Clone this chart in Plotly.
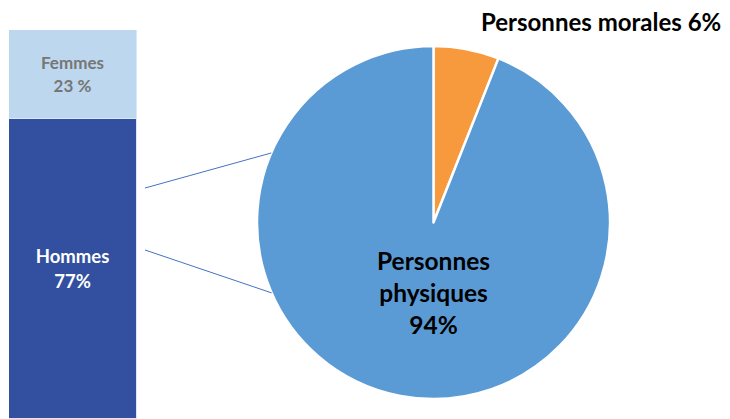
import plotly.graph_objects as go
import math

# Data
bar_labels = ["Hommes", "Femmes"]
bar_values = [77, 23]
bar_texts = ["Hommes<br>77%", "Femmes<br>23 %"]
pie_labels = ["Personnes morales", "Personnes physiques"]
pie_values = [6, 94]
pie_texts = ["Personnes morales 6%", "Personnes<br>physiques<br>94%"]

W, H = 730, 419
FONT = "Lato, 'Open Sans', sans-serif"

# Geometry (pixels)
bar_x0, bar_x1, bar_top = 9, 137, 30
pie_x0, pie_x1, pie_y0, pie_y1 = 257, 610, 45, 400

fig = go.Figure()

bar_colors = ["#32509F", "#BDD7EE"]
bar_font_colors = ["white", "#767676"]
bar_font_sizes = [18.5, 17]
for lab, v, t, c, fc, fs in zip(bar_labels, bar_values, bar_texts, bar_colors, bar_font_colors, bar_font_sizes):
    fig.add_trace(go.Bar(
        x=[""], y=[v], name=lab, text=[t], textposition="inside",
        insidetextanchor="middle", textangle=0,
        textfont=dict(color=fc, size=fs, family=FONT, weight="bold"),
        marker=dict(color=c, line=dict(color="#DCE6F2", width=1)),
        hoverinfo="skip", showlegend=False,
    ))

fig.add_trace(go.Pie(
    labels=pie_labels, values=pie_values, sort=False, direction="clockwise",
    rotation=0, textinfo="none", hoverinfo="skip", showlegend=False,
    marker=dict(colors=["#F79A3E", "#5B9BD5"], line=dict(color="white", width=2.5)),
    domain=dict(x=[pie_x0 / W, pie_x1 / W], y=[1 - pie_y1 / H, 1 - pie_y0 / H]),
))

# Connector lines from bar to pie edge
cx, cy = (pie_x0 + pie_x1) / 2, (pie_y0 + pie_y1) / 2
r = min(pie_x1 - pie_x0, pie_y1 - pie_y0) / 2
shapes = []
for by, ang in [(188, 156.8), (250, 203.5)]:
    px = cx + r * math.cos(math.radians(ang))
    py = cy - r * math.sin(math.radians(ang))
    shapes.append(dict(type="line", xref="paper", yref="paper",
                       x0=(bar_x1 + 8) / W, y0=1 - by / H, x1=px / W, y1=1 - py / H,
                       line=dict(color="#4472C4", width=1)))

annotations = [
    dict(text="<b>" + pie_texts[0] + "</b>", x=723 / W, y=1 - 22 / H, xref="paper", yref="paper",
         xanchor="right", yanchor="middle", showarrow=False,
         font=dict(size=24, color="black", family=FONT)),
    dict(text="<b>" + pie_texts[1] + "</b>", x=cx / W, y=1 - 292 / H, xref="paper", yref="paper",
         xanchor="center", yanchor="middle", showarrow=False,
         font=dict(size=24.5, color="black", family=FONT)),
]

fig.update_layout(
    width=W, height=H, margin=dict(l=0, r=0, t=0, b=0),
    paper_bgcolor="white", plot_bgcolor="white",
    barmode="stack", bargap=0,
    xaxis=dict(domain=[bar_x0 / W, bar_x1 / W], range=[-0.5, 0.5], visible=False, fixedrange=True),
    yaxis=dict(domain=[0, 1 - bar_top / H], range=[0, 100], visible=False, fixedrange=True),
    shapes=shapes, annotations=annotations,
    font=dict(family=FONT),
)

fig.write_html("out.html", config={"displayModeBar": False},
               post_script="document.body.style.margin='0';document.body.style.overflow='hidden';")
